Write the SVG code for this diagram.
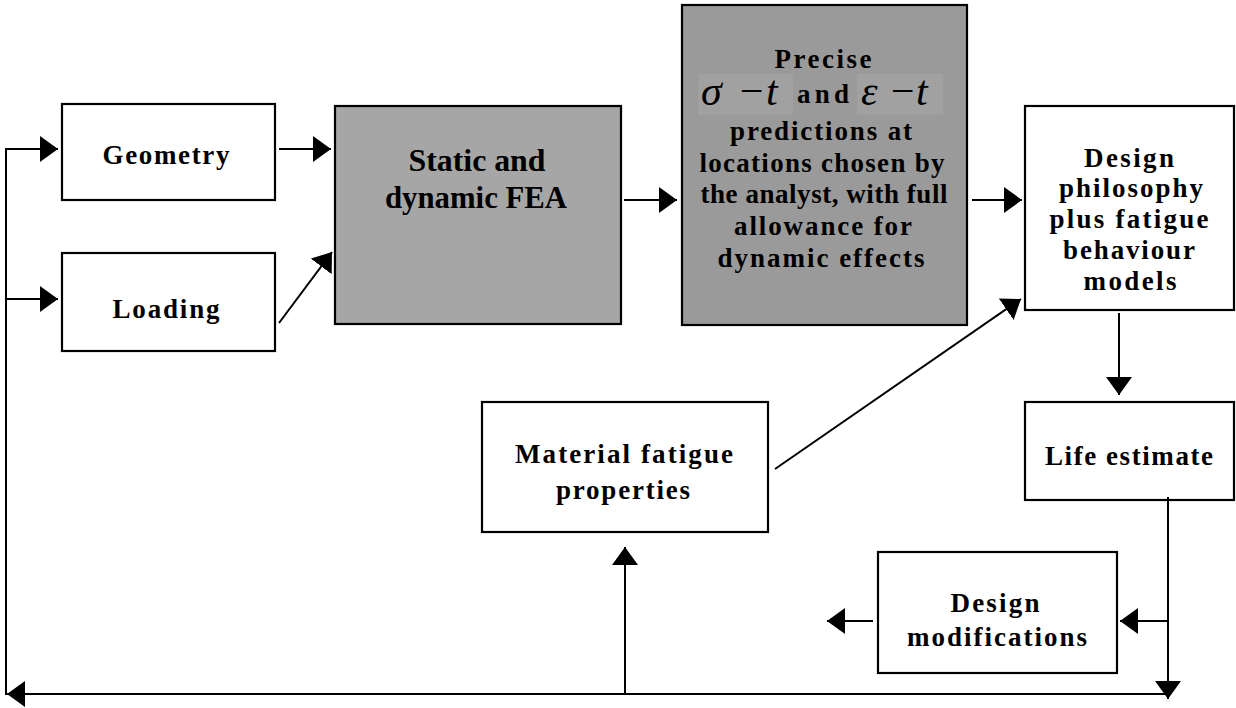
<svg xmlns="http://www.w3.org/2000/svg" width="1236" height="708" viewBox="0 0 1236 708">
<style>
.box{fill:#fff;stroke:#000;stroke-width:2.2}
.g1{fill:#a6a6a6;stroke:#000;stroke-width:2.2}
.g2{fill:#9a9a9a;stroke:#000;stroke-width:2.2}
text{font-family:'Liberation Serif','Times New Roman',serif;fill:#000}
.t{font-weight:bold;font-size:27px;text-anchor:middle}
.tf{font-weight:bold;font-size:31px;text-anchor:middle}
.m{font-style:italic;font-size:42px}
.c{fill:none;stroke:#000;stroke-width:2}
</style>
<defs>
<marker id="ah" markerUnits="userSpaceOnUse" markerWidth="18" markerHeight="26" refX="18" refY="13" orient="auto">
<path d="M0,0 L18,13 L0,26 z" fill="#000"/>
</marker>
</defs>
<rect width="1236" height="708" fill="#fff"/>

<g id="geometry">
<rect class="box" x="62" y="104" width="213" height="96"/>
<text class="t" x="166" y="164" textLength="127" lengthAdjust="spacing">Geometry</text>
</g>
<g id="loading">
<rect class="box" x="62" y="253" width="213" height="98"/>
<text class="t" x="166" y="318" textLength="107" lengthAdjust="spacing">Loading</text>
</g>
<g id="fea">
<rect class="g1" x="335" y="106" width="286" height="218"/>
<text class="tf" x="477" y="171" textLength="137" lengthAdjust="spacingAndGlyphs">Static and</text>
<text class="tf" x="476" y="208" textLength="182" lengthAdjust="spacingAndGlyphs">dynamic FEA</text>
</g>
<g id="precise">
<rect class="g2" x="682" y="5" width="285" height="320"/>
<rect x="698" y="74" width="95" height="41" fill="#a1a1a1"/>
<rect x="857" y="74" width="86" height="41" fill="#a1a1a1"/>
<text class="t" x="823" y="68" textLength="97" lengthAdjust="spacing">Precise</text>
<text class="m" x="701" y="105">σ</text>
<text class="m" x="737" y="105">−</text>
<text class="m" x="766" y="105">t</text>
<text class="t" x="823" y="103" textLength="52" lengthAdjust="spacing">and</text>
<text class="m" x="861" y="105">ε</text>
<text class="m" x="888" y="105">−</text>
<text class="m" x="916" y="105">t</text>
<text class="t" x="821" y="140" textLength="182" lengthAdjust="spacing">predictions at</text>
<text class="t" x="822" y="172" textLength="245" lengthAdjust="spacing">locations chosen by</text>
<text class="t" x="824" y="203" textLength="247" lengthAdjust="spacing">the analyst, with full</text>
<text class="t" x="823" y="235" textLength="178" lengthAdjust="spacing">allowance for</text>
<text class="t" x="821" y="267" textLength="207" lengthAdjust="spacing">dynamic effects</text>
</g>
<g id="design-philosophy">
<rect class="box" x="1025" y="106" width="209" height="204"/>
<text class="t" x="1129" y="167" textLength="90" lengthAdjust="spacing">Design</text>
<text class="t" x="1131" y="197" textLength="144" lengthAdjust="spacing">philosophy</text>
<text class="t" x="1129" y="228" textLength="159" lengthAdjust="spacing">plus fatigue</text>
<text class="t" x="1129" y="259" textLength="132" lengthAdjust="spacing">behaviour</text>
<text class="t" x="1130" y="290" textLength="93" lengthAdjust="spacing">models</text>
</g>
<g id="life-estimate">
<rect class="box" x="1025" y="402" width="209" height="98"/>
<text class="t" x="1129" y="465" textLength="168" lengthAdjust="spacing">Life estimate</text>
</g>
<g id="material">
<rect class="box" x="482" y="402" width="286" height="130"/>
<text class="t" x="624" y="463" textLength="218" lengthAdjust="spacing">Material fatigue</text>
<text class="t" x="623" y="499" textLength="134" lengthAdjust="spacing">properties</text>
</g>
<g id="design-modifications">
<rect class="box" x="878" y="552" width="239" height="121"/>
<text class="t" x="995" y="612" textLength="89" lengthAdjust="spacing">Design</text>
<text class="t" x="997" y="646" textLength="180" lengthAdjust="spacing">modifications</text>
</g>

<g id="connectors">
<line class="c" x1="6" y1="149" x2="58" y2="149" marker-end="url(#ah)"/>
<line class="c" x1="6" y1="299" x2="58" y2="299" marker-end="url(#ah)"/>
<line class="c" x1="6" y1="148" x2="6" y2="695"/>
<line class="c" x1="279" y1="149" x2="331" y2="149" marker-end="url(#ah)"/>
<line class="c" x1="279" y1="323" x2="332" y2="252" marker-end="url(#ah)"/>
<line class="c" x1="624" y1="200" x2="677" y2="200" marker-end="url(#ah)"/>
<line class="c" x1="972" y1="200" x2="1022" y2="200" marker-end="url(#ah)"/>
<line class="c" x1="775" y1="469" x2="1021" y2="299" marker-end="url(#ah)"/>
<line class="c" x1="1119" y1="313" x2="1119" y2="395" marker-end="url(#ah)"/>
<line class="c" x1="1168" y1="497" x2="1168" y2="699" marker-end="url(#ah)"/>
<line class="c" x1="1168" y1="621" x2="1120" y2="621" marker-end="url(#ah)"/>
<line class="c" x1="873" y1="621" x2="827" y2="621" marker-end="url(#ah)"/>
<line class="c" x1="1168" y1="694" x2="7" y2="694" marker-end="url(#ah)"/>
<line class="c" x1="625" y1="694" x2="625" y2="547" marker-end="url(#ah)"/>
</g>
</svg>
